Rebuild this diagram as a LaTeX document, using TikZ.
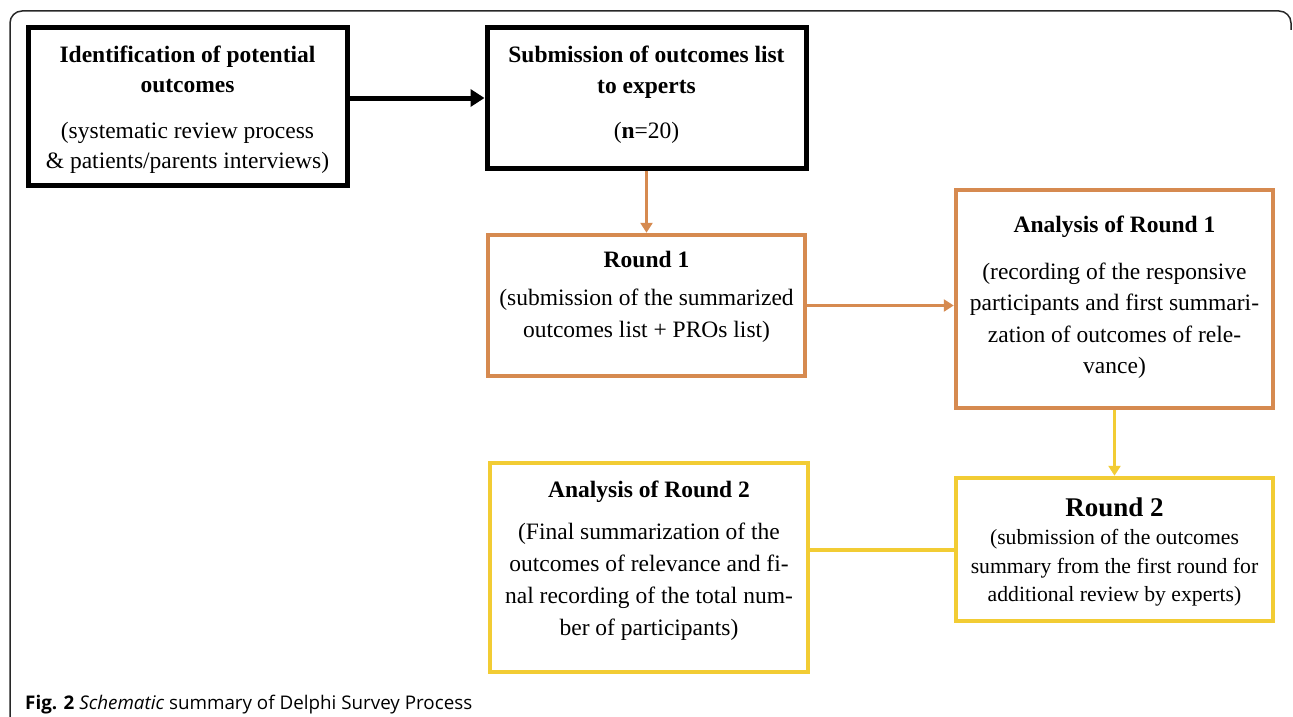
\documentclass[tikz,border=0pt]{standalone}
\usepackage{fontspec}
\setmainfont{Liberation Serif}
\newfontfamily\capfont{Open Sans}
\usetikzlibrary{arrows.meta,calc}
\definecolor{orng}{RGB}{214,138,80}
\definecolor{yelw}{RGB}{242,204,52}
\definecolor{frm}{RGB}{40,40,40}
\newcommand\mybox[5]{\begin{minipage}[c][#2][t]{#1}\centering#4\rule{0pt}{#3}\ignorespaces#5\end{minipage}}
\tikzset{
  boxb/.style={draw=black, line width=5pt, inner sep=0pt, fill=white},
  boxo/.style={draw=orng, line width=4.5pt, inner sep=0pt, fill=white},
  boxy/.style={draw=yelw, line width=4.5pt, inner sep=0pt, fill=white},
  arb/.style={draw=black, line width=5pt, -{Triangle[length=14pt,width=17pt]}},
  aro/.style={draw=orng, line width=3.8pt, -{Triangle[length=10pt,width=12pt]}},
  ary/.style={draw=yelw, line width=3.8pt, -{Triangle[length=10pt,width=12pt]}},
  lny/.style={draw=yelw, line width=4pt},
  frame/.style={draw=frm, line width=1.5pt, rounded corners=12pt},
}
\begin{document}
\begin{tikzpicture}[x=1pt,y=-1pt]
\useasboundingbox (0,0) rectangle (1293,717);
\fill[white] (0,0) rectangle (1293,717);
\draw[frame] (10,717) -- (10,11) -- (1291,11) -- (1291,30);

\node[boxb] (b1) at (187.5,106.5) {\mybox{319pt}{157pt}{34pt}{\fontsize{23.5}{30}\selectfont}{\textbf{Identification of potential}\\\textbf{outcomes}\\[16pt](systematic review process\\\& patients/parents interviews)}};

\node[boxb] (b2) at (646.5,98) {\mybox{319pt}{140pt}{34pt}{\fontsize{23.5}{31}\selectfont}{\textbf{Submission of outcomes list}\\\textbf{to experts}\\[14pt](\textbf{n}=20)}};

\node[boxo] (r1) at (646.5,305.5) {\mybox{317pt}{141pt}{32pt}{\fontsize{23.5}{32}\selectfont}{\textbf{Round 1}\\[6pt](submission of the summarized\\outcomes list + PROs list)}};

\node[boxo] (a1) at (1114.5,299) {\mybox{317pt}{218pt}{42pt}{\fontsize{23.5}{31.5}\selectfont}{\textbf{Analysis of Round 1}\\[15.5pt](recording of the responsive\\participants and first summari-\\zation of outcomes of rele-\\vance)}};

\node[boxy] (r2) at (1114.5,549.5) {\mybox{317pt}{143pt}{38pt}{\fontsize{21.7}{28.5}\selectfont}{{\fontsize{27}{28.5}\selectfont\textbf{Round 2}}\\(submission of the outcomes\\summary from the first round for\\additional review by experts)}};

\node[boxy] (a2) at (649,567.5) {\mybox{318pt}{209pt}{34pt}{\fontsize{23.5}{32}\selectfont}{\textbf{Analysis of Round 2}\\[10pt](Final summarization of the\\outcomes of relevance and fi-\\nal recording of the total num-\\ber of participants)}};

\draw[arb] (b1.east |- b2.west) -- (b2.west);
\draw[aro] (b2.south) -- (r1.north);
\draw[aro] (r1.east) -- (r1.east -| a1.west);
\draw[ary] (a1.south) -- (r2.north);
\draw[lny] (r2.west) -- (r2.west -| a2.east);

\node[anchor=base west, inner sep=0pt, font=\capfont\fontsize{18.8}{22}\selectfont] (cap) at (25,709) {\textbf{Fig. 2} \textit{Schematic} summary of Delphi Survey Process};
\end{tikzpicture}
\end{document}
